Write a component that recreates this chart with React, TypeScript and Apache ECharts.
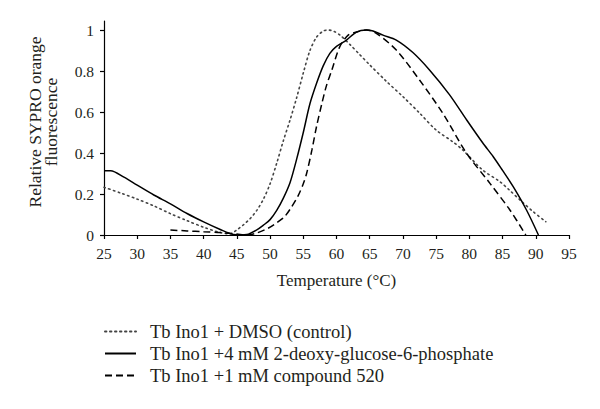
import React, { useEffect, useRef } from "react";
import * as echarts from "echarts";

const FONT = "'Liberation Serif', 'Times New Roman', serif";

const seriesNames = [
  "Tb Ino1 + DMSO (control)",
  "Tb Ino1 +4 mM 2-deoxy-glucose-6-phosphate",
  "Tb Ino1 +1 mM compound 520",
];

const dmso: [number, number][] = [
  [25, 0.233], [27.5, 0.205], [30, 0.175], [32.5, 0.142], [35, 0.104], [37.5, 0.07],
  [40, 0.038], [42.5, 0.012], [44, 0.006], [45, 0.025], [46, 0.05], [47, 0.08],
  [48, 0.12], [49, 0.175], [50, 0.25], [51, 0.35], [52, 0.46], [53, 0.56], [54, 0.67],
  [55, 0.79], [56, 0.9], [57, 0.965], [58, 0.995], [58.7, 1.0], [59.5, 0.995],
  [60.5, 0.976], [62, 0.93], [63.5, 0.88], [65, 0.83], [67.5, 0.75], [70, 0.675],
  [72.5, 0.595], [75, 0.512], [77.5, 0.455], [79, 0.415], [82, 0.317], [84.6, 0.26],
  [86, 0.22], [88, 0.16], [89.6, 0.114], [91.5, 0.065],
];

const deoxyGlucose: [number, number][] = [
  [25, 0.314], [26, 0.314], [28, 0.282], [30, 0.243], [32.5, 0.195], [35, 0.152],
  [37.5, 0.105], [40, 0.064], [42.5, 0.027], [44.5, 0.002], [45.5, 0], [46.5, 0.002],
  [48, 0.025], [49, 0.048], [50, 0.075], [51, 0.12], [52, 0.18], [53, 0.255], [54, 0.37],
  [55, 0.5], [56, 0.64], [57, 0.74], [58, 0.825], [59, 0.886], [60, 0.92], [61.5, 0.951],
  [63, 0.99], [64.5, 1.0], [65.5, 0.995], [67, 0.975], [69, 0.951], [71.5, 0.89],
  [74, 0.805], [77, 0.685], [79.6, 0.561], [82, 0.45], [83.6, 0.382], [85, 0.315],
  [86.6, 0.236], [88.6, 0.122], [90.4, 0],
];

const compound520: [number, number][] = [
  [35, 0.024], [37.5, 0.02], [40, 0.016], [42.5, 0.012], [45, 0.005], [46.5, 0],
  [48, 0.01], [49.7, 0.033], [51, 0.06], [52.2, 0.09], [53.2, 0.135], [54.2, 0.19],
  [55, 0.25], [55.5, 0.3], [56.3, 0.415], [57, 0.53], [57.8, 0.642], [58.5, 0.73],
  [59.3, 0.805], [60.5, 0.919], [61.8, 0.976], [63, 0.99], [64.5, 1.0], [66, 0.984],
  [69, 0.902], [72.5, 0.756], [76, 0.594], [79.6, 0.398], [83.1, 0.252], [86.1, 0.122],
  [88.5, 0],
];

const yTicks = [0, 0.2, 0.4, 0.6, 0.8, 1];
const X_MIN = 25;
const X_MAX = 95;
const X_STEP = 5;
const Y_MAX = 1.044;

export default function App() {
  const ref = useRef<HTMLDivElement>(null);
  useEffect(() => {
    if (!ref.current) return;
    const chart = echarts.init(ref.current, null, { renderer: "svg" });
    const textColor = "#231f20";
    chart.setOption({
      animation: false,
      backgroundColor: "#ffffff",
      textStyle: { fontFamily: FONT },
      grid: { left: 104, right: 31, top: 21, bottom: 174 },
      xAxis: {
        type: "value",
        min: X_MIN,
        max: X_MAX,
        interval: X_STEP,
        name: "Temperature (°C)",
        nameLocation: "middle",
        nameGap: 37,
        nameTextStyle: { fontFamily: FONT, fontSize: 17, color: textColor },
        axisLine: { lineStyle: { color: "#000", width: 1.2 } },
        axisTick: { length: 4, lineStyle: { color: "#000", width: 1.2 } },
        axisLabel: { fontFamily: FONT, fontSize: 15.5, color: textColor, margin: 10 },
        splitLine: { show: false },
      },
      yAxis: {
        type: "value",
        min: 0,
        max: Y_MAX,
        axisLine: { show: true, lineStyle: { color: "#000", width: 1.2 } },
        axisTick: { show: true, length: 4, customValues: yTicks, lineStyle: { color: "#000", width: 1.2 } },
        axisLabel: {
          fontFamily: FONT,
          fontSize: 15.5,
          color: textColor,
          margin: 10,
          customValues: yTicks,
          formatter: (v: number) => String(Math.round(v * 10) / 10),
        },
        splitLine: { show: false },
      },
      legend: {
        orient: "vertical",
        left: 104,
        top: 322,
        padding: 0,
        itemWidth: 31,
        itemHeight: 14,
        itemGap: 3,
        itemStyle: { opacity: 0 },
        textStyle: { fontFamily: FONT, fontSize: 18.5, color: textColor, padding: [0, 0, 0, 9] },
        data: seriesNames,
      },
      graphic: [
        {
          type: "text",
          x: 43,
          y: 122,
          rotation: Math.PI / 2,
          style: {
            text: "Relative SYPRO orange\nfluorescence",
            fontFamily: FONT,
            fontSize: 17.5,
            lineHeight: 16,
            fill: textColor,
            align: "center",
            verticalAlign: "middle",
          },
        },
      ],
      series: [
        {
          name: seriesNames[0],
          type: "line",
          data: dmso,
          symbol: "none",
          smooth: 0.3,
          lineStyle: { color: "#444", width: 1.6, type: [1.4, 3.6], cap: "round" },
          itemStyle: { color: "#444" },
        },
        {
          name: seriesNames[1],
          type: "line",
          data: deoxyGlucose,
          symbol: "none",
          smooth: 0.3,
          lineStyle: { color: "#000", width: 1.5, type: "solid" },
          itemStyle: { color: "#000" },
        },
        {
          name: seriesNames[2],
          type: "line",
          data: compound520,
          symbol: "none",
          smooth: 0.3,
          lineStyle: { color: "#000", width: 1.5, type: [7, 4] },
          itemStyle: { color: "#000" },
        },
      ],
    });
    return () => chart.dispose();
  }, []);
  return (
    <div
      ref={ref}
      style={{ position: "absolute", left: 0, top: 0, width: 600, height: 409 }}
    />
  );
}
